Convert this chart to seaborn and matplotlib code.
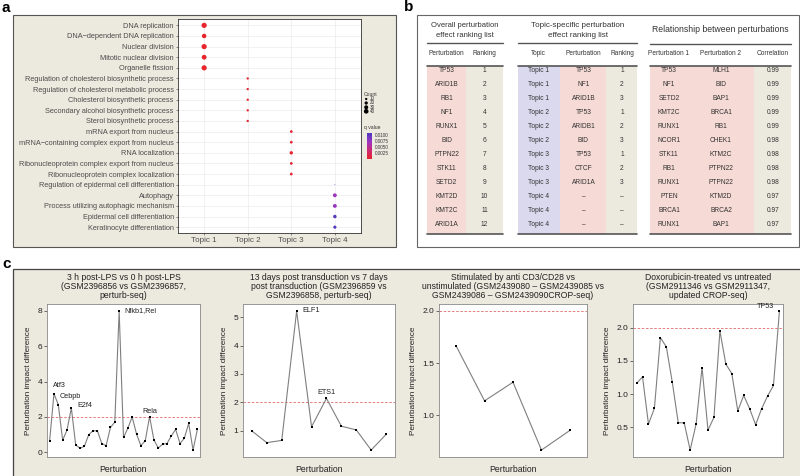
import numpy as np
import pandas as pd
import matplotlib
matplotlib.use("Agg")
import matplotlib.pyplot as plt
import seaborn as sns
from matplotlib.patches import Rectangle
from matplotlib.colors import LinearSegmentedColormap, Normalize
from matplotlib.ticker import MultipleLocator, FormatStrFormatter
import matplotlib.colorbar as mcolorbar

sns.set_theme(style="white")
plt.rcParams["font.family"] = ["Liberation Sans", "DejaVu Sans"]

# ---------------- data: panel a (GO enrichment dot plot) ----------------
go_terms = [
    "DNA replication", "DNA\u2212dependent DNA replication", "Nuclear division",
    "Mitotic nuclear division", "Organelle fission",
    "Regulation of cholesterol biosynthetic process",
    "Regulation of cholesterol metabolic process",
    "Cholesterol biosynthetic process", "Secondary alcohol biosynthetic process",
    "Sterol biosynthetic process", "mRNA export from nucleus",
    "mRNA\u2212containing complex export from nucleus", "RNA localization",
    "Ribonucleoprotein complex export from nucleus",
    "Ribonucleoprotein complex localization",
    "Regulation of epidermal cell differentiation", "Autophagy",
    "Process utilizing autophagic mechanism", "Epidermal cell differentiation",
    "Keratinocyte differentiation",
]
go_topic = ["Topic 1"] * 5 + ["Topic 2"] * 5 + ["Topic 3"] * 5 + ["Topic 4"] * 5
go_count = [40, 30, 40, 34, 40, 8, 8, 8, 8, 8, 11, 11, 17, 11, 11, 1, 22, 22, 18, 15]
go_qvalue = [0.00002, 0.00002, 0.00002, 0.00002, 0.00002,
             0.0003, 0.0003, 0.0003, 0.0003, 0.0003,
             0.0002, 0.0002, 0.0002, 0.0002, 0.0002,
             0.0095, 0.0071, 0.0072, 0.0104, 0.0105]
topics = ["Topic 1", "Topic 2", "Topic 3", "Topic 4"]
count_legend = [10, 20, 30, 40]
q_ticks = [0.0025, 0.0050, 0.0075, 0.0100]

# ---------------- data: panel b (tables) ----------------
t1_pert = ["TP53", "ARID1B", "RB1", "NF1", "RUNX1", "BID", "PTPN22", "STK11",
           "SETD2", "KMT2D", "KMT2C", "ARID1A"]
t1_rank = ["1", "2", "3", "4", "5", "6", "7", "8", "9", "10", "11", "12"]
t2_topic = ["Topic 1"] * 3 + ["Topic 2"] * 3 + ["Topic 3"] * 3 + ["Topic 4"] * 3
t2_pert = ["TP53", "NF1", "ARID1B", "TP53", "ARIDB1", "BID", "TP53", "CTCF",
           "ARID1A", "\u2013", "\u2013", "\u2013"]
t2_rank = ["1", "2", "3", "1", "2", "3", "1", "2", "3", "\u2013", "\u2013", "\u2013"]
t3_p1 = ["TP53", "NF1", "SETD2", "KMT2C", "RUNX1", "NCOR1", "STK11", "RB1",
         "RUNX1", "PTEN", "BRCA1", "RUNX1"]
t3_p2 = ["MLH1", "BID", "BAP1", "BRCA1", "RB1", "CHEK1", "KTM2C", "PTPN22",
         "PTPN22", "KTM2D", "BRCA2", "BAP1"]
t3_corr = ["0.99", "0.99", "0.99", "0.99", "0.99", "0.98", "0.98", "0.98",
           "0.98", "0.97", "0.97", "0.97"]

# ---------------- data: panel c (line plots) ----------------
c1_vals = [0.65, 3.31, 2.70, 0.69, 1.26, 2.51, 0.42, 0.23, 0.34, 1.00, 1.22,
           1.22, 0.50, 0.38, 1.41, 1.71, 8.00, 0.84, 1.37, 2.00, 1.03, 0.38,
           0.65, 2.02, 0.70, 0.25, 0.46, 0.50, 0.93, 1.30, 0.50, 0.80, 1.64,
           0.13, 1.30]
c1_labels = {1: "Atf3", 2: "Cebpb", 5: "E2f4", 16: "Nfkb1,Rel", 23: "Rela"}
c2_vals = [0.99, 0.58, 0.66, 5.22, 1.14, 2.14, 1.16, 1.03, 0.32, 0.87]
c2_labels = {3: "ELF1", 5: "ETS1"}
c3_vals = [1.666, 1.14, 1.318, 0.669, 0.857]
c3_labels = {}
c4_vals = [1.16, 1.26, 0.55, 0.79, 1.85, 1.71, 1.18, 0.57, 0.57, 0.16, 0.55,
           1.40, 0.46, 0.65, 1.95, 1.45, 1.31, 0.75, 0.98, 0.78, 0.54, 0.78,
           0.97, 1.13, 2.25]
c4_labels = {24: "TP53"}
c_threshold = 2.0
c_titles = [
    "3 h post-LPS vs 0 h post-LPS\n(GSM2396856 vs GSM2396857,\nperturb-seq)",
    "13 days post transduction vs 7 days\npost transduction (GSM2396859 vs\nGSM2396858, perturb-seq)",
    "Stimulated by anti CD3/CD28 vs\nunstimulated (GSM2439080 \u2013 GSM2439085 vs\nGSM2439086 \u2013 GSM2439090CROP-seq)",
    "Doxorubicin-treated vs untreated\n(GSM2911346 vs GSM2911347,\nupdated CROP-seq)",
]

# ---------------- figure ----------------
W, H = 800, 476
fig = plt.figure(figsize=(8, 4.76), dpi=100)
fig.patch.set_facecolor("white")


def fax(l, t, r, b, **kw):
    return fig.add_axes([l / W, 1 - b / H, (r - l) / W, (b - t) / H], **kw)


bg = fax(0, 0, W, H, zorder=0)
bg.set_xlim(0, W)
bg.set_ylim(H, 0)
bg.axis("off")

BEIGE = "#ECE9DE"
PINK = "#F6DAD5"
TBEIGE = "#ECEADF"
LAV = "#DAD9EE"
TXT = "#333333"

# panel boxes
bg.add_patch(Rectangle((13, 15), 383, 232, fc=BEIGE, ec="#555555", lw=0.8))
bg.add_patch(Rectangle((417, 15), 382, 232, fc="white", ec="#666666", lw=0.8))
bg.add_patch(Rectangle((13, 269), 790, 212, fc=BEIGE, ec="#444444", lw=0.9))
for lab, x, y in [("a", 2, 8), ("b", 404, 7), ("c", 2, 264)]:
    bg.text(x, y, lab, fontsize=11, fontweight="bold", va="center", ha="left",
            color="black")

# ---------------- panel a ----------------
cmap = LinearSegmentedColormap.from_list(
    "q", ["#E8242C", "#CC2A72", "#9A35C4", "#4A38BE"])
qnorm = Normalize(0.0, 0.011)
df_a = pd.DataFrame({"term": go_terms, "topic": go_topic,
                     "count": go_count, "q": go_qvalue})
df_a["xi"] = [topics.index(t) for t in df_a["topic"]]
df_a["yi"] = np.arange(len(df_a))

ax_a = fax(178, 19, 361, 233, zorder=2)
ax_a.set_facecolor("white")
ax_a.grid(True, color="#EBEBEB", lw=0.5)
ax_a.set_axisbelow(True)
SMAX = 14
sns.scatterplot(data=df_a, x="xi", y="yi", hue="q", size="count",
                palette=cmap, hue_norm=qnorm, sizes=(0, SMAX), size_norm=(0, 40),
                linewidth=0, legend=False, ax=ax_a, zorder=3)
ax_a.set_xlim(-0.6, 3.6)
ax_a.set_ylim(len(go_terms) - 0.45, -0.6)
ax_a.set_xticks(range(len(topics)))
ax_a.set_xticklabels(topics, fontsize=5.8, color="#4D4D4D")
ax_a.set_yticks(df_a["yi"])
ax_a.set_yticklabels(df_a["term"], fontsize=5.35, color="#4D4D4D")
ax_a.set_xlabel("")
ax_a.set_ylabel("")
ax_a.tick_params(length=1.5, width=0.4, color="#333333", pad=1.5,
                 left=True, bottom=True)
for sp in ax_a.spines.values():
    sp.set_color("#333333")
    sp.set_linewidth(0.6)

# size legend
bg.text(364.0, 94.3, "Count", fontsize=3.6, color=TXT, va="center", ha="left")
leg_y = [99.0, 103.0, 107.3, 111.3]
bg.scatter([366.2] * len(count_legend), leg_y,
           s=[c / 40 * SMAX * 0.8 for c in count_legend], color="black", lw=0,
           zorder=3)
for c, y in zip(count_legend, leg_y):
    bg.text(369.5, y, str(c), fontsize=3.3, color=TXT, va="center", ha="left")
bg.text(364.0, 127.7, "q value", fontsize=3.6, color=TXT, va="center", ha="left")
cax = fax(366.7, 132.7, 371.7, 159.3, zorder=2)
cb = mcolorbar.ColorbarBase(cax, cmap=cmap, norm=qnorm)
cb.outline.set_visible(False)
cb.set_ticks(q_ticks)
cb.set_ticklabels(["%.4f" % q for q in q_ticks])
cax.tick_params(length=1, width=0.4, color="white", labelsize=3.3,
                labelcolor=TXT, pad=1)

# ---------------- panel b (tables) ----------------
ROW0, DROW = 71.0, 14.0
TOP_C, BOT_C = 65.5, 234.3


def table(x0, x1, col_edges, col_colors, col_centers, col_heads, cols,
          head_lines, head_y, head_line_y, head_fs):
    for (a, b), col in zip(col_edges, col_colors):
        bg.add_patch(Rectangle((a, TOP_C), b - a, BOT_C - TOP_C, fc=col, ec="none"))
    for txt, y in zip(head_lines, head_y):
        bg.text((x0 + x1) / 2, y, txt, fontsize=head_fs, color=TXT, ha="center",
                va="center")
    bg.plot([x0, x1], [head_line_y, head_line_y], color="#555555", lw=1.0)
    bg.plot([x0, x1], [TOP_C, TOP_C], color="#555555", lw=1.2)
    bg.plot([x0, x1], [BOT_C, BOT_C], color="#555555", lw=1.2)
    for xc, h in zip(col_centers, col_heads):
        bg.text(xc, 53.5, h, fontsize=4.7, color=TXT, ha="center", va="center")
    for xc, vals in zip(col_centers, cols):
        for i, v in enumerate(vals):
            bg.text(xc, ROW0 + i * DROW, v, fontsize=4.8, color=TXT,
                    ha="center", va="center")


table(427, 503, [(427, 466), (466, 503)], [PINK, TBEIGE], [446.5, 484.5],
      ["Perturbation", "Ranking"], [t1_pert, t1_rank],
      ["Overall perturbation", "effect ranking list"], [25.5, 35.5], 43.0, 5.5)
table(518, 637, [(518, 560), (560, 605.7), (605.7, 637)], [LAV, PINK, TBEIGE],
      [538.5, 583.5, 622.0], ["Topic", "Perturbation", "Ranking"],
      [t2_topic, t2_pert, t2_rank],
      ["Topic-specific perturbation", "effect ranking list"], [25.5, 35.5], 43.0,
      5.8)
table(650, 791, [(650, 754), (754, 791)], [PINK, TBEIGE],
      [669.0, 721.0, 773.0], ["Perturbation 1", "Perturbation 2", "Correlation"],
      [t3_p1, t3_p2, t3_corr],
      ["Relationship between perturbations"], [29.5], 44.0, 6.2)

# ---------------- panel c ----------------
series = [c1_vals, c2_vals, c3_vals, c4_vals]
labels = [c1_labels, c2_labels, c3_labels, c4_labels]
lefts = [47, 243, 439, 633]
widths = [153, 152, 148, 150]
locs = [2, 1, 0.5, 0.5]
fmts = ["%d", "%d", "%.1f", "%.1f"]
lab_style = {
    "Atf3": dict(xytext=(-0.6, 6.0), ha="left"),
    "Cebpb": dict(xytext=(0.6, 6.0), ha="left"),
    "E2f4": dict(xytext=(4.0, 1.5), ha="left"),
    "Nfkb1,Rel": dict(xytext=(4.0, 0.5), ha="left"),
    "Rela": dict(xytext=(0.0, 4.0), ha="center"),
    "ELF1": dict(xytext=(4.0, 0.3), ha="left"),
    "ETS1": dict(xytext=(0.0, 4.5), ha="center"),
    "TP53": dict(xytext=(-4.0, 3.0), ha="right"),
}
for vals, labs, l, w, loc, fmt, title in zip(series, labels, lefts, widths,
                                             locs, fmts, c_titles):
    ax = fax(l, 304, l + w, 457, zorder=2)
    ax.set_facecolor("white")
    x = np.arange(len(vals))
    sns.lineplot(x=x, y=vals, color="#7F7F7F", lw=0.8, ax=ax, zorder=2)
    sns.scatterplot(x=x, y=vals, marker="s", s=4.5, color="black",
                    linewidth=0, ax=ax, zorder=3)
    ax.axhline(c_threshold, color="#E06A6A", lw=0.6, ls=(0, (3, 2)), zorder=1)
    lo = min(min(vals), c_threshold)
    hi = max(max(vals), c_threshold)
    pad = 0.05 * (hi - lo)
    ax.set_ylim(lo - pad, hi + pad)
    ax.set_xlim(-0.6, len(vals) - 0.4)
    ax.yaxis.set_major_locator(MultipleLocator(loc))
    ax.yaxis.set_major_formatter(FormatStrFormatter(fmt))
    ax.set_xticks([])
    ax.tick_params(axis="y", labelsize=6, length=2, width=0.5, color="#333333",
                   labelcolor="#222222", pad=1.5, left=True)
    for sp in ax.spines.values():
        sp.set_color("#888888")
        sp.set_linewidth(0.6)
    ax.set_title(title, fontsize=6.2, color="#222222", pad=4, linespacing=1.05)
    ax.set_xlabel("Perturbation", fontsize=6.2, color="#222222", labelpad=6)
    ax.set_ylabel("Perturbation impact difference", fontsize=5.9,
                  color="#222222", labelpad=4)
    for i, txt in labs.items():
        st = lab_style[txt]
        ax.annotate(txt, (x[i], vals[i]), xytext=st["xytext"],
                    textcoords="offset points", ha=st["ha"], va="center",
                    fontsize=5.2, color="#222222")

fig.savefig("out.png", dpi=100, facecolor="white")
